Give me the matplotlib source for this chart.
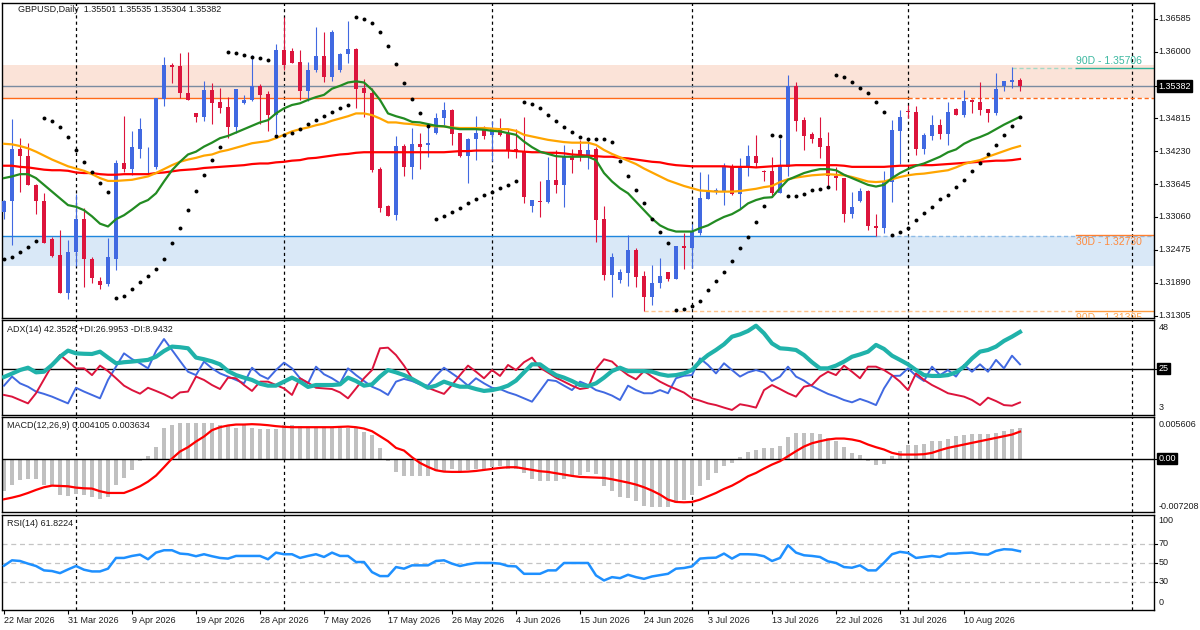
import numpy as np
import matplotlib
matplotlib.use("Agg")
import matplotlib.pyplot as plt
import matplotlib.transforms as mtransforms

# header texts
symbol_text = "GBPUSD,Daily  1.35501 1.35535 1.35304 1.35382"
adx_text = "ADX(14) 42.3528 +DI:26.9953 -DI:8.9432"
macd_text = "MACD(12,26,9) 0.004105 0.003634"
rsi_text = "RSI(14) 61.8224"

date_labels = ["22 Mar 2026", "31 Mar 2026", "9 Apr 2026", "19 Apr 2026", "28 Apr 2026",
               "7 May 2026", "17 May 2026", "26 May 2026", "4 Jun 2026", "15 Jun 2026",
               "24 Jun 2026", "3 Jul 2026", "13 Jul 2026", "22 Jul 2026", "31 Jul 2026",
               "10 Aug 2026"]
date_bars = list(range(0, 121, 8))
month_sep_bars = [9, 35, 61, 86, 113, 141]

# daily candles (open, high, low, close)
open_ = [1.3315, 1.3335, 1.3426, 1.3414, 1.3363, 1.3335, 1.3266, 1.3238, 1.3171, 1.3243,
         1.3302, 1.3231, 1.3192, 1.3186, 1.3232, 1.3401, 1.3392, 1.3427, 1.3394, 1.3395,
         1.3515, 1.3576, 1.3574, 1.3526, 1.3491, 1.3483, 1.3532, 1.3510, 1.3501, 1.3465,
         1.3508, 1.3513, 1.3539, 1.3525, 1.3487, 1.3603, 1.3601, 1.3582, 1.3530, 1.3567,
         1.3592, 1.3555, 1.3567, 1.3595, 1.3605, 1.3535, 1.3527, 1.3391, 1.3325, 1.3309,
         1.3432, 1.3395, 1.3436, 1.3433, 1.3455, 1.3482, 1.3496, 1.3455, 1.3415, 1.3444,
         1.3462, 1.3451, 1.3461, 1.3453, 1.3426, 1.3422, 1.3326, 1.3335, 1.3332, 1.3372,
         1.3362, 1.3414, 1.3425, 1.3414, 1.3426, 1.3302, 1.3202, 1.3193, 1.3207, 1.3247,
         1.3201, 1.3164, 1.3188, 1.3208, 1.3196, 1.3254, 1.3250, 1.3278, 1.3338, 1.3350,
         1.3351, 1.3394, 1.3346, 1.3394, 1.3414, 1.3388, 1.3388, 1.3349, 1.3395, 1.3539,
         1.3478, 1.3453, 1.3446, 1.3432, 1.3379, 1.3376, 1.3312, 1.3335, 1.3352, 1.3289,
         1.3287, 1.3368, 1.3459, 1.3494, 1.3493, 1.3427, 1.3450, 1.3469, 1.3453, 1.3498,
         1.3488, 1.3513, 1.3510, 1.3498, 1.3490, 1.3539, 1.3546, 1.35501]
high_ = [1.3336, 1.3480, 1.3446, 1.3437, 1.3364, 1.3349, 1.3271, 1.3283, 1.3265, 1.3347,
         1.3321, 1.3235, 1.3200, 1.3268, 1.3408, 1.3485, 1.3459, 1.3481, 1.3431, 1.3518,
         1.3591, 1.3580, 1.3597, 1.3599, 1.3491, 1.3548, 1.3544, 1.3536, 1.3519, 1.3534,
         1.3523, 1.3593, 1.3542, 1.3529, 1.3613, 1.3661, 1.3606, 1.3603, 1.3582, 1.3644,
         1.3634, 1.3638, 1.3597, 1.3654, 1.3606, 1.3552, 1.3535, 1.3395, 1.3327, 1.3450,
         1.3435, 1.3464, 1.3455, 1.3472, 1.3490, 1.3510, 1.3498, 1.3456, 1.3446, 1.3485,
         1.3467, 1.3477, 1.3482, 1.3463, 1.3463, 1.3483, 1.3336, 1.3370, 1.3413, 1.3425,
         1.3434, 1.3426, 1.3442, 1.3447, 1.3431, 1.3325, 1.3241, 1.3213, 1.3274, 1.3250,
         1.3210, 1.3221, 1.3233, 1.3208, 1.3254, 1.3278, 1.3293, 1.3385, 1.3382, 1.3357,
         1.3402, 1.3400, 1.3410, 1.3433, 1.3452, 1.3390, 1.3413, 1.3444, 1.3558, 1.3546,
         1.3483, 1.3457, 1.3483, 1.3457, 1.3395, 1.3376, 1.3351, 1.3357, 1.3354, 1.3311,
         1.3388, 1.3478, 1.3496, 1.3505, 1.3503, 1.3455, 1.3487, 1.3480, 1.3510, 1.3499,
         1.3532, 1.3515, 1.3546, 1.3498, 1.3562, 1.3547, 1.3573, 1.35535]
low_ = [1.3303, 1.3256, 1.3351, 1.3362, 1.3311, 1.3259, 1.3234, 1.3170, 1.3160, 1.3219,
        1.3182, 1.3189, 1.3177, 1.3184, 1.3212, 1.3385, 1.3381, 1.3410, 1.3384, 1.3391,
        1.3504, 1.3544, 1.3517, 1.3513, 1.3475, 1.3477, 1.3472, 1.3491, 1.3447, 1.3455,
        1.3506, 1.3512, 1.3472, 1.3458, 1.3453, 1.3567, 1.3579, 1.3513, 1.3512, 1.3563,
        1.3546, 1.3548, 1.3563, 1.3579, 1.3500, 1.3484, 1.3385, 1.3315, 1.3307, 1.3300,
        1.3378, 1.3373, 1.3392, 1.3413, 1.3453, 1.3469, 1.3434, 1.3413, 1.3367, 1.3408,
        1.3445, 1.3406, 1.3450, 1.3411, 1.3411, 1.3330, 1.3315, 1.3306, 1.3331, 1.3349,
        1.3324, 1.3384, 1.3406, 1.3391, 1.3262, 1.3193, 1.3163, 1.3188, 1.3184, 1.3182,
        1.3139, 1.3149, 1.3180, 1.3192, 1.3195, 1.3213, 1.3216, 1.3274, 1.3337, 1.3346,
        1.3327, 1.3345, 1.3321, 1.3379, 1.3394, 1.3369, 1.3342, 1.3348, 1.3379, 1.3459,
        1.3425, 1.3438, 1.3411, 1.3360, 1.3354, 1.3297, 1.3304, 1.3332, 1.3283, 1.3272,
        1.3278, 1.3332, 1.3400, 1.3481, 1.3416, 1.3418, 1.3443, 1.3445, 1.3434, 1.3488,
        1.3483, 1.3491, 1.3488, 1.3474, 1.3487, 1.3530, 1.3535, 1.35304]
close_ = [1.3335, 1.3426, 1.3414, 1.3363, 1.3335, 1.3260, 1.3237, 1.3171, 1.3243, 1.3302,
          1.3231, 1.3197, 1.3185, 1.3234, 1.3401, 1.3392, 1.3430, 1.3462, 1.3395, 1.3517,
          1.3576, 1.3573, 1.3526, 1.3514, 1.3483, 1.3532, 1.3509, 1.3500, 1.3465, 1.3533,
          1.3514, 1.3538, 1.3523, 1.3487, 1.3603, 1.3576, 1.3580, 1.3530, 1.3568, 1.3592,
          1.3555, 1.3635, 1.3596, 1.3605, 1.3533, 1.3527, 1.3389, 1.3322, 1.3308, 1.3432,
          1.3395, 1.3436, 1.3431, 1.3437, 1.3482, 1.3496, 1.3453, 1.3415, 1.3444, 1.3455,
          1.3450, 1.3462, 1.3452, 1.3425, 1.3422, 1.3342, 1.3336, 1.3332, 1.3372, 1.3362,
          1.3415, 1.3408, 1.3414, 1.3425, 1.3300, 1.3202, 1.3235, 1.3208, 1.3247, 1.3200,
          1.3164, 1.3188, 1.3201, 1.3196, 1.3254, 1.3250, 1.3280, 1.3339, 1.3350, 1.3354,
          1.3394, 1.3346, 1.3394, 1.3414, 1.3402, 1.3386, 1.3349, 1.3397, 1.3539, 1.3477,
          1.3450, 1.3445, 1.3431, 1.3378, 1.3375, 1.3312, 1.3324, 1.3352, 1.3289, 1.3287,
          1.3368, 1.3461, 1.3483, 1.3492, 1.3427, 1.3452, 1.3469, 1.3453, 1.3493, 1.3488,
          1.3512, 1.3510, 1.3496, 1.3490, 1.3533, 1.3547, 1.3550, 1.35382]

# moving averages
ma_fast = [1.3375, 1.3378, 1.3382, 1.3382, 1.3375, 1.3363, 1.3351, 1.3339, 1.3327, 1.3324,
           1.3318, 1.3307, 1.3294, 1.3289, 1.3302, 1.3309, 1.3319, 1.3330, 1.3336, 1.3348,
           1.3369, 1.3389, 1.3404, 1.3417, 1.3422, 1.3431, 1.3438, 1.3446, 1.3450, 1.3456,
           1.3462, 1.3468, 1.3474, 1.3478, 1.3490, 1.3499, 1.3505, 1.3508, 1.3514, 1.3519,
           1.3523, 1.3534, 1.3539, 1.3545, 1.3547, 1.3545, 1.3532, 1.3514, 1.3490, 1.3485,
           1.3481, 1.3475, 1.3474, 1.3471, 1.3468, 1.3467, 1.3464, 1.3462, 1.3462, 1.3462,
           1.3461, 1.3459, 1.3458, 1.3455, 1.3452, 1.3440, 1.3430, 1.3422, 1.3418, 1.3414,
           1.3413, 1.3413, 1.3413, 1.3413, 1.3407, 1.3384, 1.3369, 1.3357, 1.3348, 1.3333,
           1.3318, 1.3303, 1.3291, 1.3284, 1.3280, 1.3280, 1.3280, 1.3286, 1.3291, 1.3299,
           1.3306, 1.3311, 1.3319, 1.3330, 1.3336, 1.3340, 1.3341, 1.3357, 1.3372, 1.3378,
           1.3384, 1.3388, 1.3391, 1.3391, 1.3389, 1.3381, 1.3375, 1.3369, 1.3363, 1.3360,
           1.3363, 1.3375, 1.3384, 1.3391, 1.3397, 1.3401, 1.3407, 1.3413, 1.3421, 1.3426,
           1.3436, 1.3443, 1.3448, 1.3454, 1.3462, 1.3470, 1.3477, 1.3484]
ma_mid = [1.3436, 1.3435, 1.3432, 1.3428, 1.3422, 1.3415, 1.3408, 1.3402, 1.3396, 1.3392,
          1.3388, 1.3382, 1.3375, 1.3370, 1.3370, 1.3371, 1.3372, 1.3375, 1.3378, 1.3384,
          1.3391, 1.3398, 1.3404, 1.3408, 1.3411, 1.3415, 1.3417, 1.3422, 1.3425, 1.3429,
          1.3433, 1.3437, 1.3439, 1.3441, 1.3446, 1.3452, 1.3458, 1.3462, 1.3465, 1.3469,
          1.3472, 1.3477, 1.3481, 1.3485, 1.3490, 1.3490, 1.3487, 1.3481, 1.3474, 1.3474,
          1.3472, 1.3471, 1.3469, 1.3468, 1.3467, 1.3467, 1.3465, 1.3464, 1.3464, 1.3464,
          1.3464, 1.3463, 1.3462, 1.3462, 1.3459, 1.3452, 1.3449, 1.3446, 1.3443, 1.3441,
          1.3439, 1.3438, 1.3438, 1.3438, 1.3434, 1.3425, 1.3418, 1.3412, 1.3406, 1.3400,
          1.3392, 1.3385, 1.3378, 1.3371, 1.3366, 1.3361, 1.3357, 1.3353, 1.3352, 1.3351,
          1.3351, 1.3351, 1.3352, 1.3354, 1.3356, 1.3359, 1.3361, 1.3368, 1.3373, 1.3376,
          1.3378, 1.3380, 1.3381, 1.3382, 1.3381, 1.3380, 1.3377, 1.3373, 1.3369, 1.3368,
          1.3369, 1.3373, 1.3377, 1.3380, 1.3382, 1.3383, 1.3385, 1.3387, 1.3389, 1.3394,
          1.3400, 1.3404, 1.3407, 1.3413, 1.3418, 1.3423, 1.3428, 1.3432]
ma_slow = [1.3397, 1.3397, 1.3395, 1.3394, 1.3392, 1.3390, 1.3389, 1.3389, 1.3388, 1.3385,
           1.3384, 1.3384, 1.3382, 1.3381, 1.3381, 1.3382, 1.3382, 1.3382, 1.3382, 1.3384,
           1.3385, 1.3387, 1.3389, 1.3390, 1.3391, 1.3393, 1.3394, 1.3395, 1.3396, 1.3397,
           1.3398, 1.3400, 1.3401, 1.3401, 1.3403, 1.3404, 1.3406, 1.3407, 1.3410, 1.3411,
           1.3413, 1.3415, 1.3417, 1.3418, 1.3420, 1.3421, 1.3421, 1.3421, 1.3421, 1.3421,
           1.3421, 1.3421, 1.3421, 1.3421, 1.3421, 1.3421, 1.3422, 1.3423, 1.3423, 1.3424,
           1.3424, 1.3424, 1.3424, 1.3424, 1.3423, 1.3422, 1.3421, 1.3421, 1.3420, 1.3420,
           1.3419, 1.3417, 1.3416, 1.3415, 1.3414, 1.3413, 1.3413, 1.3411, 1.3410, 1.3408,
           1.3406, 1.3404, 1.3403, 1.3400, 1.3398, 1.3397, 1.3396, 1.3396, 1.3396, 1.3396,
           1.3396, 1.3395, 1.3395, 1.3395, 1.3394, 1.3395, 1.3396, 1.3397, 1.3397, 1.3398,
           1.3398, 1.3398, 1.3398, 1.3398, 1.3398, 1.3397, 1.3395, 1.3395, 1.3395, 1.3395,
           1.3395, 1.3396, 1.3397, 1.3397, 1.3398, 1.3398, 1.3398, 1.3399, 1.3400, 1.3401,
           1.3402, 1.3403, 1.3404, 1.3405, 1.3406, 1.3406, 1.3407, 1.3409]

# parabolic SAR dots
sar = [1.3231, 1.3235, 1.3244, 1.3253, 1.3264, 1.3481, 1.3477, 1.3466, 1.3448, 1.3425,
       1.3404, 1.3385, 1.3366, 1.3351, 1.3161, 1.3166, 1.3178, 1.3190, 1.3201, 1.3213,
       1.3231, 1.3260, 1.3286, 1.3318, 1.3352, 1.3381, 1.3408, 1.3431, 1.3599, 1.3597,
       1.3594, 1.3590, 1.3589, 1.3585, 1.3449, 1.3452, 1.3456, 1.3463, 1.3471, 1.3479,
       1.3485, 1.3493, 1.3500, 1.3505, 1.3661, 1.3657, 1.3650, 1.3634, 1.3609, 1.3578,
       1.3544, 1.3516, 1.3491, 1.3468, 1.3303, 1.3308, 1.3315, 1.3322, 1.3331, 1.3338,
       1.3345, 1.3350, 1.3358, 1.3363, 1.3370, 1.3510, 1.3507, 1.3500, 1.3487, 1.3477,
       1.3466, 1.3457, 1.3448, 1.3445, 1.3445, 1.3445, 1.3439, 1.3405, 1.3378, 1.3353,
       1.3330, 1.3303, 1.3280, 1.3260, 1.3140, 1.3142, 1.3148, 1.3156, 1.3176, 1.3192,
       1.3208, 1.3228, 1.3250, 1.3271, 1.3297, 1.3325, 1.3452, 1.3450, 1.3344, 1.3344,
       1.3347, 1.3353, 1.3356, 1.3360, 1.3559, 1.3555, 1.3545, 1.3535, 1.3527, 1.3510,
       1.3493, 1.3274, 1.3279, 1.3286, 1.3301, 1.3313, 1.3324, 1.3337, 1.3345, 1.3360,
       1.3372, 1.3388, 1.3402, 1.3418, 1.3434, 1.3452, 1.3468, 1.3484]

# levels and zones
price_ticks = [1.36585, 1.36000, 1.34815, 1.34230, 1.33645, 1.33060, 1.32475, 1.31890, 1.31305]
last_price = 1.35382
zone_high = (1.35169, 1.35761)
zone_low = (1.32188, 1.32715)
level_90d_high = 1.35706
level_30d_low = 1.32730
level_90d_low = 1.31395

# ADX(14)
adx = [21.0, 22.6, 24.3, 25.4, 23.2, 23.5, 26.7, 30.6, 33.5, 32.2,
       32.0, 31.9, 33.0, 30.2, 27.5, 28.0, 28.3, 28.7, 29.1, 30.6,
       33.3, 35.4, 35.1, 34.6, 30.2, 29.4, 28.4, 27.0, 23.8, 21.9,
       20.7, 19.6, 17.8, 16.9, 16.9, 18.8, 20.7, 18.8, 16.3, 17.2,
       17.2, 17.2, 17.5, 20.7, 19.1, 16.9, 17.5, 21.2, 24.3, 23.2,
       21.9, 20.1, 18.0, 15.9, 16.9, 18.8, 17.5, 16.4, 16.4, 15.3,
       14.4, 14.8, 15.6, 16.9, 19.3, 23.2, 27.0, 27.0, 24.3, 21.9,
       20.7, 19.1, 17.2, 16.7, 18.0, 20.7, 23.8, 25.4, 23.8, 23.8,
       23.8, 23.5, 22.3, 21.6, 21.9, 22.7, 24.3, 28.3, 31.4, 33.8,
       36.5, 40.1, 41.2, 42.8, 45.3, 41.7, 36.9, 34.6, 34.3, 33.8,
       31.4, 28.0, 25.1, 25.1, 26.4, 28.3, 30.6, 31.7, 33.0, 36.2,
       34.3, 31.1, 29.1, 27.0, 24.3, 21.9, 21.5, 21.5, 21.9, 23.2,
       25.9, 29.8, 33.0, 33.8, 35.4, 38.1, 40.1, 42.3528]
plus_di = [16.9, 21.2, 18.0, 16.4, 14.1, 13.0, 11.7, 10.1, 8.5, 15.9,
           14.1, 12.5, 10.9, 19.6, 25.9, 32.2, 29.5, 27.5, 25.1, 33.3,
           39.0, 33.8, 28.6, 23.5, 21.9, 28.3, 25.1, 22.7, 21.2, 19.6,
           18.0, 25.4, 21.9, 20.1, 24.3, 27.8, 25.1, 20.4, 18.0, 25.9,
           22.3, 20.4, 18.0, 25.1, 21.9, 19.1, 16.4, 14.8, 12.5, 18.8,
           20.1, 19.1, 17.5, 16.9, 21.6, 25.4, 22.7, 20.1, 16.9, 20.4,
           18.0, 15.9, 15.3, 13.7, 12.5, 10.9, 9.3, 14.4, 19.6, 19.1,
           16.9, 14.8, 18.8, 17.2, 14.8, 13.7, 12.2, 10.1, 16.9, 14.8,
           13.3, 13.3, 14.8, 13.3, 20.4, 21.6, 21.9, 29.8, 26.7, 22.7,
           27.5, 24.3, 21.2, 23.2, 24.3, 23.2, 19.1, 21.2, 25.9, 21.2,
           19.3, 16.7, 14.8, 13.0, 11.7, 10.1, 9.0, 10.6, 9.3, 7.7,
           15.6, 21.5, 21.6, 25.1, 21.6, 19.1, 25.9, 21.9, 24.3, 21.2,
           26.7, 23.5, 27.0, 23.5, 29.1, 25.1, 31.1, 26.9953]
minus_di = [12.5, 11.7, 10.1, 8.5, 13.3, 19.9, 26.5, 31.4, 28.3, 25.1,
            25.1, 21.9, 26.4, 23.8, 20.4, 16.9, 14.8, 13.1, 15.9, 14.4,
            12.8, 10.9, 13.7, 14.1, 21.2, 19.6, 17.2, 15.3, 20.7, 20.4,
            17.2, 14.4, 18.8, 18.8, 17.2, 15.6, 12.5, 20.4, 18.3, 15.9,
            15.6, 15.3, 13.7, 10.9, 15.6, 20.4, 24.3, 34.6, 34.9, 31.4,
            26.4, 20.4, 18.0, 15.9, 14.4, 13.0, 17.2, 21.9, 26.4, 23.5,
            20.4, 24.3, 21.5, 26.7, 24.3, 28.0, 30.2, 25.4, 23.1, 20.7,
            18.8, 16.9, 15.3, 15.9, 24.8, 29.4, 28.3, 24.8, 21.9, 19.9,
            23.8, 21.2, 18.8, 16.9, 15.3, 13.6, 10.9, 9.8, 8.5, 7.7,
            6.5, 5.4, 8.1, 7.4, 6.5, 14.8, 17.2, 15.3, 13.3, 11.7,
            16.4, 17.2, 21.2, 23.5, 21.9, 26.4, 23.5, 20.4, 25.9, 25.9,
            24.3, 21.9, 18.8, 14.8, 22.7, 19.6, 17.2, 15.3, 13.3, 12.5,
            11.7, 10.1, 7.7, 11.2, 9.6, 7.7, 7.4, 8.9432]

# MACD(12,26,9): main as histogram, signal as line
macd_main = [-0.00441, -0.00360, -0.00293, -0.00275, -0.00275, -0.00351, -0.00374, -0.00495, -0.00509, -0.00477,
             -0.00486, -0.00522, -0.00545, -0.00522, -0.00351, -0.00261, -0.00149, -0.00027, 0.00032, 0.00158,
             0.00414, 0.00459, 0.00482, 0.00482, 0.00482, 0.00482, 0.00482, 0.00459, 0.00459, 0.00414,
             0.00459, 0.00414, 0.00392, 0.00392, 0.00392, 0.00459, 0.00459, 0.00437, 0.00414, 0.00414,
             0.00414, 0.00414, 0.00414, 0.00414, 0.00414, 0.00360, 0.00315, 0.00144, -0.00036, -0.00180,
             -0.00239, -0.00239, -0.00239, -0.00239, -0.00171, -0.00171, -0.00135, -0.00162, -0.00149, -0.00135,
             -0.00135, -0.00117, -0.00104, -0.00135, -0.00135, -0.00194, -0.00270, -0.00306, -0.00306, -0.00306,
             -0.00270, -0.00216, -0.00216, -0.00180, -0.00207, -0.00374, -0.00441, -0.00522, -0.00531, -0.00576,
             -0.00644, -0.00657, -0.00657, -0.00657, -0.00599, -0.00554, -0.00486, -0.00374, -0.00284, -0.00194,
             -0.00104, -0.00059, 0.00018, 0.00090, 0.00122, 0.00144, 0.00144, 0.00167, 0.00288, 0.00347,
             0.00347, 0.00347, 0.00333, 0.00279, 0.00234, 0.00153, 0.00077, 0.00054, -0.00036, -0.00090,
             -0.00072, 0.00032, 0.00108, 0.00189, 0.00189, 0.00198, 0.00243, 0.00243, 0.00270, 0.00302,
             0.00324, 0.00338, 0.00338, 0.00338, 0.00347, 0.00378, 0.00405, 0.004105]
macd_signal = [-0.00549, -0.00527, -0.00500, -0.00464, -0.00423, -0.00387, -0.00365, -0.00369, -0.00374, -0.00392,
               -0.00401, -0.00405, -0.00441, -0.00464, -0.00464, -0.00464, -0.00423, -0.00374, -0.00311, -0.00230,
               -0.00117, 0.00000, 0.00095, 0.00153, 0.00230, 0.00297, 0.00383, 0.00423, 0.00446, 0.00459,
               0.00459, 0.00464, 0.00459, 0.00450, 0.00437, 0.00428, 0.00423, 0.00423, 0.00423, 0.00423,
               0.00423, 0.00423, 0.00428, 0.00432, 0.00423, 0.00405, 0.00369, 0.00302, 0.00234, 0.00144,
               0.00108, 0.00018, -0.00059, -0.00113, -0.00158, -0.00176, -0.00180, -0.00180, -0.00176, -0.00167,
               -0.00153, -0.00140, -0.00126, -0.00117, -0.00117, -0.00135, -0.00153, -0.00171, -0.00180, -0.00198,
               -0.00216, -0.00234, -0.00248, -0.00252, -0.00257, -0.00261, -0.00279, -0.00302, -0.00324, -0.00351,
               -0.00387, -0.00432, -0.00486, -0.00554, -0.00585, -0.00590, -0.00585, -0.00554, -0.00509, -0.00464,
               -0.00410, -0.00365, -0.00306, -0.00239, -0.00194, -0.00135, -0.00081, -0.00036, 0.00032, 0.00099,
               0.00162, 0.00207, 0.00234, 0.00257, 0.00270, 0.00270, 0.00257, 0.00234, 0.00189, 0.00153,
               0.00122, 0.00077, 0.00054, 0.00054, 0.00054, 0.00059, 0.00077, 0.00113, 0.00144, 0.00167,
               0.00189, 0.00212, 0.00234, 0.00257, 0.00279, 0.00302, 0.00324, 0.003634]

# RSI(14)
rsi = [46.6, 52.3, 51.6, 48.8, 46.3, 41.7, 41.0, 38.8, 42.7, 46.3,
       42.4, 40.6, 40.6, 43.5, 54.8, 54.8, 56.9, 58.3, 53.4, 60.4,
       62.9, 62.9, 59.4, 58.7, 56.6, 58.7, 56.6, 54.8, 54.1, 56.9,
       56.9, 56.9, 56.9, 53.4, 60.4, 58.7, 58.7, 54.8, 56.9, 58.7,
       55.8, 60.4, 56.9, 56.9, 50.5, 50.5, 39.9, 35.7, 35.7, 45.2,
       43.5, 47.0, 47.0, 47.0, 51.6, 52.3, 48.8, 46.3, 48.1, 49.5,
       49.5, 49.5, 48.8, 46.3, 45.9, 38.1, 38.1, 38.1, 41.7, 41.7,
       49.5, 49.5, 49.5, 49.5, 36.4, 31.1, 34.6, 33.5, 37.1, 34.6,
       32.8, 35.3, 36.7, 38.1, 43.5, 44.2, 45.9, 54.1, 54.8, 55.1,
       59.4, 54.1, 58.7, 58.7, 58.3, 56.6, 51.6, 54.8, 68.2, 60.4,
       57.6, 56.9, 55.8, 51.2, 49.5, 45.2, 44.5, 47.0, 41.7, 41.7,
       49.8, 58.7, 61.2, 60.1, 54.8, 55.8, 56.9, 55.8, 59.4, 59.4,
       60.1, 60.4, 58.7, 58.3, 62.2, 64.0, 63.6, 61.8224]

# ---- drawing ----
W, H = 1200, 630
plt.rcParams['font.family'] = ['Liberation Sans', 'DejaVu Sans']
fig = plt.figure(figsize=(W / 100, H / 100), dpi=100)
FS = 6.5
TXT = '#1c1c1c'
XMAX = 143.75


def panel(top, bottom):
    ax = fig.add_axes([2 / W, 1 - bottom / H, 1152 / W, (bottom - top) / H])
    ax.set_xlim(-0.25, XMAX)
    ax.set_xticks([])
    ax.set_yticks([])
    for s in ax.spines.values():
        s.set_linewidth(1.0)
        s.set_color('black')
    for b in month_sep_bars:
        ax.axvline(b, color='black', lw=0.9, ls=(0, (2.5, 2.5)), zorder=1)
    return ax


def rlabel(ax, y, s, boxed=False, axes_y=False, tick=True):
    tr = mtransforms.blended_transform_factory(ax.transAxes, ax.transAxes if axes_y else ax.transData)
    if tick:
        ax.plot([1.0, 1.0 + 3 / 1152], [y, y], transform=tr, color='black', lw=0.8, clip_on=False)
    kw = dict(transform=tr, fontsize=FS, va='center', ha='left', clip_on=False, color=TXT)
    if boxed:
        kw.update(color='white', bbox=dict(boxstyle='square,pad=0.15', fc='black', ec='black'))
    ax.text(1.0 + 4.5 / 1152, y, s, **kw)


x = np.arange(len(close_))
o, h, l, c = map(np.array, (open_, high_, low_, close_))

# price panel
ax_p = panel(3, 318)
ax_p.set_ylim(1.31263, 1.36863)
ax_p.axhspan(*zone_high, color='#fbe3d8', lw=0, zorder=0)
ax_p.axhspan(*zone_low, color='#d9e8f7', lw=0, zorder=0)
ax_p.axhline(last_price, color='#7a8ba0', lw=1, zorder=1)
ax_p.plot([-0.25, 113], [zone_high[0]] * 2, color='#ff6a1a', lw=1, zorder=1)
ax_p.plot([113, XMAX], [zone_high[0]] * 2, color='#ff6a1a', lw=1, ls=(0, (3, 2)), zorder=1)
ax_p.plot([-0.25, 109], [zone_low[1]] * 2, color='#1f86dd', lw=1, zorder=1)
ax_p.plot([109, XMAX], [zone_low[1]] * 2, color='#8dbbe6', lw=1, ls=(0, (3, 2)), zorder=1)
ax_p.plot([134, XMAX], [level_30d_low] * 2, color='#ff8030', lw=1, zorder=1)
ax_p.plot([126, 134], [level_90d_high] * 2, color='#a4d8c6', lw=1, ls=(0, (3, 2)), zorder=1)
ax_p.plot([134, XMAX], [level_90d_high] * 2, color='#2fb39a', lw=1, zorder=1)
ax_p.plot([80, 134], [level_90d_low] * 2, color='#ffc48e', lw=1, ls=(0, (3, 2)), zorder=1)
ax_p.plot([134, XMAX], [level_90d_low] * 2, color='#ff9c40', lw=1, zorder=1)

up_off = mtransforms.offset_copy(ax_p.transData, fig=fig, y=2, units='dots')
dn_off = mtransforms.offset_copy(ax_p.transData, fig=fig, y=-2, units='dots')
ax_p.text(134, level_90d_high, "90D - %.5f" % level_90d_high, transform=up_off, color='#3cb8a0',
          fontsize=7.5, va='bottom', ha='left')
ax_p.text(134, level_30d_low, "30D - %.5f" % level_30d_low, transform=dn_off, color='#ff8a3d',
          fontsize=7.5, va='top', ha='left')
ax_p.text(134, level_90d_low, "90D - %.5f" % level_90d_low, transform=dn_off, color='#ffa550',
          fontsize=7.5, va='top', ha='left', clip_on=True)

cols = np.where(c >= o, '#4169e1', '#dc143c')
ax_p.vlines(x, l, h, colors=cols, lw=0.8, zorder=3)
ax_p.bar(x, np.maximum(np.abs(c - o), 0.00005), bottom=np.minimum(o, c), width=0.62,
         color=cols, lw=0, zorder=4)
ax_p.plot(x, ma_slow, color='#ff0000', lw=1.6, zorder=5)
ax_p.plot(x, ma_mid, color='#ffa500', lw=1.6, zorder=5)
ax_p.plot(x, ma_fast, color='#228b22', lw=1.6, zorder=5)
ax_p.scatter(x, sar, s=8, color='black', lw=0, zorder=6)

for v in price_ticks:
    rlabel(ax_p, v, "%.5f" % v)
rlabel(ax_p, last_price, "%.5f" % last_price, boxed=True)

# ADX panel
ax_a = panel(320, 415)
ax_a.set_ylim(3, 48)
ax_a.axhline(25, color='black', lw=1, zorder=1)
ax_a.plot(x, plus_di, color='#4169e1', lw=1.4, zorder=3)
ax_a.plot(x, minus_di, color='#dc143c', lw=1.4, zorder=3)
ax_a.plot(x, adx, color='#20b2aa', lw=3, zorder=4)
rlabel(ax_a, 0.916, "48", axes_y=True, tick=False)
rlabel(ax_a, 25, "25", boxed=True)
rlabel(ax_a, 0.074, "3", axes_y=True, tick=False)

# MACD panel
ax_m = panel(417, 512)
ax_m.set_ylim(-0.007208, 0.005606)
ax_m.bar(x, macd_main, width=0.42, color='#c0c0c0', lw=0, zorder=2)
ax_m.axhline(0, color='black', lw=1, zorder=3)
ax_m.plot(x, macd_signal, color='#ff0000', lw=1.6, zorder=4)
rlabel(ax_m, 0.916, "0.005606", axes_y=True, tick=False)
rlabel(ax_m, 0.0, "0.00", boxed=True)
rlabel(ax_m, 0.063, "-0.007208", axes_y=True, tick=False)

# RSI panel
ax_r = panel(515, 610)
ax_r.set_ylim(0, 100)
for lev in (30, 50, 70):
    ax_r.axhline(lev, color='#c4c4c4', lw=0.9, ls=(0, (4, 3)), zorder=1)
    rlabel(ax_r, lev, str(lev))
ax_r.plot(x, rsi, color='#1e90ff', lw=1.8, zorder=3)
rlabel(ax_r, 0.937, "100", axes_y=True, tick=False)
rlabel(ax_r, 0.074, "0", axes_y=True, tick=False)

ax_r.set_xticks(date_bars)
ax_r.set_xticklabels(date_labels, fontsize=FS, ha='left', color=TXT)
ax_r.tick_params(axis='x', length=3, width=0.8, pad=1.5, direction='out')

# indicator captions
fig.text(18 / W, 1 - 10 / H, symbol_text, fontsize=FS, va='center', ha='left', color=TXT)
fig.text(7 / W, 1 - 329 / H, adx_text, fontsize=FS, va='center', ha='left', color=TXT)
fig.text(7 / W, 1 - 426 / H, macd_text, fontsize=FS, va='center', ha='left', color=TXT)
fig.text(7 / W, 1 - 524 / H, rsi_text, fontsize=FS, va='center', ha='left', color=TXT)

fig.savefig('out.png', dpi=100, facecolor='white')
